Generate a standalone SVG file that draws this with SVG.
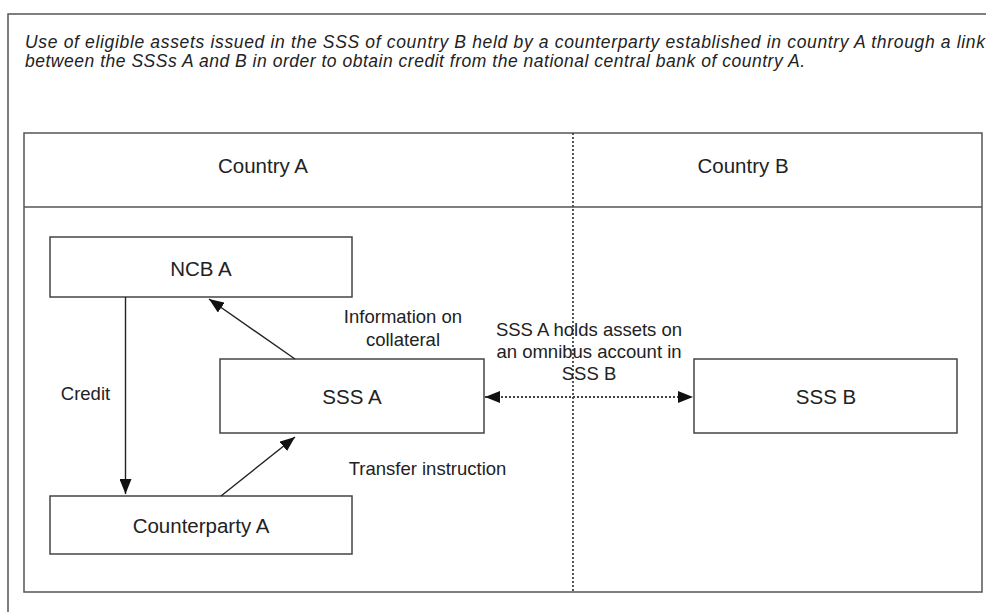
<svg xmlns="http://www.w3.org/2000/svg" width="986" height="612" viewBox="0 0 986 612">
<style>
text{font-family:"Liberation Sans",Arial,Helvetica,sans-serif;fill:#222}
.title{font-size:17.5px;font-style:italic}
.node{font-size:20.5px;text-anchor:middle}
.lbl{font-size:18.5px;text-anchor:middle}
.box{fill:#fff;stroke:#444;stroke-width:1.5}
.frame{fill:none;stroke:#555;stroke-width:1.5}
.edge{fill:none;stroke:#222;stroke-width:1.4}
.dot{fill:none;stroke:#444;stroke-width:1.8;stroke-dasharray:2 2}
</style>
<defs>
<marker id="ah" markerUnits="userSpaceOnUse" markerWidth="16" markerHeight="12" refX="15" refY="6" orient="auto-start-reverse" viewBox="0 0 16 12">
<path d="M0,0 L15,6 L0,12 z" fill="#111"/>
</marker>
</defs>
<rect width="986" height="612" fill="#fff"/>
<g id="outer-frame">
<rect class="frame" x="8" y="14" width="1000" height="620"/>
<text class="title" x="25" y="48" textLength="960" lengthAdjust="spacing">Use of eligible assets issued in the SSS of country B held by a counterparty established in country A through a link</text>
<text class="title" x="25" y="67" textLength="780" lengthAdjust="spacing">between the SSSs A and B in order to obtain credit from the national central bank of country A.</text>
</g>
<g id="countries">
<rect class="frame" x="24" y="133" width="958" height="459"/>
<line class="frame" x1="24" y1="207" x2="982" y2="207"/>
<line class="dot" x1="573" y1="133" x2="573" y2="592" stroke-width="1.6"/>
<text class="node" x="263" y="173">Country A</text>
<text class="node" x="743" y="173">Country B</text>
</g>
<g id="ncb-a">
<rect class="box" x="50" y="237" width="302" height="60"/>
<text class="node" x="201" y="276">NCB A</text>
</g>
<g id="sss-a">
<rect class="box" x="220" y="359" width="264" height="74"/>
<text class="node" x="352" y="404">SSS A</text>
</g>
<g id="sss-b">
<rect class="box" x="694" y="359" width="263" height="74"/>
<text class="node" x="826" y="404">SSS B</text>
</g>
<g id="counterparty-a">
<rect class="box" x="50" y="496" width="302" height="58"/>
<text class="node" x="201" y="533">Counterparty A</text>
</g>
<g id="connectors">
<line class="edge" x1="125.5" y1="297" x2="125.5" y2="494" marker-end="url(#ah)"/>
<line class="edge" x1="295" y1="359" x2="209" y2="299" marker-end="url(#ah)"/>
<line class="edge" x1="221" y1="496" x2="295" y2="437" marker-end="url(#ah)"/>
<line class="dot" x1="485" y1="397" x2="693" y2="397" marker-start="url(#ah)" marker-end="url(#ah)"/>
<text class="lbl" x="85.5" y="400">Credit</text>
<text class="lbl" x="403" y="323">Information on</text>
<text class="lbl" x="403" y="346">collateral</text>
<text class="lbl" x="589" y="336">SSS A holds assets on</text>
<text class="lbl" x="589" y="358">an omnibus account in</text>
<text class="lbl" x="589" y="380">SSS B</text>
<text class="lbl" x="427.5" y="475">Transfer instruction</text>
</g>
</svg>
